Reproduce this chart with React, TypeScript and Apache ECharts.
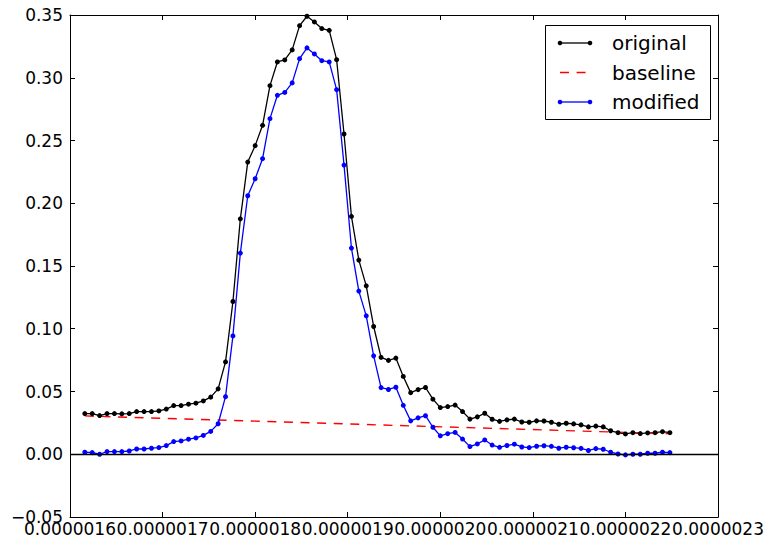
import React, { useEffect, useRef } from "react";
import * as echarts from "echarts";

// x positions in units of 1e-9
const xValues = [
  1616, 1624, 1632, 1640, 1648, 1656, 1664, 1672, 1680, 1688,
  1696, 1704, 1712, 1720, 1728, 1736, 1744, 1752, 1760, 1768,
  1776, 1784, 1792, 1800, 1808, 1816, 1824, 1832, 1840, 1848,
  1856, 1864, 1872, 1880, 1888, 1896, 1904, 1912, 1920, 1928,
  1936, 1944, 1952, 1960, 1968, 1976, 1984, 1992, 2000, 2008,
  2016, 2024, 2032, 2040, 2048, 2056, 2064, 2072, 2080, 2088,
  2096, 2104, 2112, 2120, 2128, 2136, 2144, 2152, 2160, 2168,
  2176, 2184, 2192, 2200, 2208, 2216, 2224, 2232, 2240, 2248,
];

const original = [
  0.0324, 0.0324, 0.0308, 0.0324, 0.0324, 0.0322, 0.0324, 0.034, 0.034, 0.034,
  0.0345, 0.036, 0.0388, 0.0388, 0.0399, 0.0407, 0.0425, 0.0455, 0.0521, 0.0736,
  0.1217, 0.1876, 0.2328, 0.2459, 0.2621, 0.2937, 0.3126, 0.3142, 0.3222, 0.3415,
  0.349, 0.3445, 0.3392, 0.3378, 0.3144, 0.2552, 0.1895, 0.1547, 0.1342, 0.1018,
  0.0772, 0.0748, 0.0766, 0.062, 0.0491, 0.0515, 0.0532, 0.0439, 0.0372, 0.038,
  0.0392, 0.034, 0.028, 0.0298, 0.0327, 0.0279, 0.0262, 0.0274, 0.028, 0.0257,
  0.0255, 0.0266, 0.0265, 0.0255, 0.0239, 0.0247, 0.0242, 0.0234, 0.0218, 0.0224,
  0.0218, 0.0187, 0.0172, 0.0162, 0.0172, 0.0165, 0.017, 0.0172, 0.018, 0.0172,
];

const modified = [
  0.0016, 0.0013, 0.0, 0.0021, 0.0021, 0.0021, 0.0026, 0.0042, 0.0042, 0.0048,
  0.0053, 0.0069, 0.0101, 0.0106, 0.012, 0.013, 0.015, 0.0182, 0.0243, 0.0459,
  0.0943, 0.1603, 0.206, 0.2195, 0.2355, 0.2674, 0.286, 0.2883, 0.2959, 0.3152,
  0.3238, 0.319, 0.3136, 0.3126, 0.2905, 0.2304, 0.1643, 0.13, 0.1103, 0.0784,
  0.0531, 0.0516, 0.0534, 0.039, 0.0266, 0.029, 0.0307, 0.0215, 0.0147, 0.0164,
  0.0174, 0.0121, 0.0061, 0.0082, 0.0114, 0.0073, 0.0055, 0.007, 0.008, 0.0058,
  0.0053, 0.0064, 0.0068, 0.0063, 0.0048, 0.0056, 0.0052, 0.0047, 0.003, 0.0045,
  0.004, 0.0016, 0.0002, -0.0005, 0.0, 0.0, 0.0008, 0.0008, 0.0016, 0.0013,
];

const baselineX = [1616, 2248];
const baselineY = [0.0305, 0.0164];

const legendNames = ["original", "baseline", "modified"];
const seriesColors = ["#000000", "#ff0000", "#0000ff"];

const X_MIN = 1600;
const X_MAX = 2300;
const X_STEP = 100;
const Y_MIN = -0.05;
const Y_MAX = 0.35;
const Y_STEP = 0.05;

const FONT = "DejaVu Sans";

export default function App() {
  const ref = useRef<HTMLDivElement>(null);

  useEffect(() => {
    if (!ref.current) return;
    const chart = echarts.init(ref.current, null, { renderer: "svg" });
    const pair = (xs: number[], ys: number[]) => xs.map((x, i) => [x, ys[i]]);

    const axisLine = { show: true, onZero: false, lineStyle: { color: "#000", width: 1 } };
    const tick = { show: true, inside: true, length: 5, lineStyle: { color: "#000", width: 1 } };
    const xFmt = (v: number) => (v / 1e9).toFixed(7);
    const yFmt = (v: number) =>
      v < -1e-9 ? "\u2212" + Math.abs(v).toFixed(2) : Math.abs(v).toFixed(2);

    const legendRows = [43, 72.5, 102];
    const graphic: any[] = [
      {
        type: "rect",
        z: 100,
        shape: { x: 545.5, y: 25.5, width: 165, height: 94 },
        style: { fill: "#fff", stroke: "#000", lineWidth: 1 },
      },
    ];
    legendNames.forEach((name, i) => {
      const y = legendRows[i];
      const c = seriesColors[i];
      if (i === 1) {
        graphic.push({
          type: "line",
          z: 101,
          shape: { x1: 560, y1: y, x2: 590, y2: y },
          style: { stroke: c, lineWidth: 1.3, lineDash: [9, 7.6] },
        });
      } else {
        graphic.push({
          type: "line",
          z: 101,
          shape: { x1: 560, y1: y, x2: 590, y2: y },
          style: { stroke: c, lineWidth: 1.3 },
        });
        graphic.push({ type: "circle", z: 102, shape: { cx: 560, cy: y, r: 2.3 }, style: { fill: c } });
        graphic.push({ type: "circle", z: 102, shape: { cx: 590, cy: y, r: 2.3 }, style: { fill: c } });
      }
      graphic.push({
        type: "text",
        z: 102,
        x: 612,
        y: y,
        style: {
          text: name,
          fill: "#000",
          font: `20px "${FONT}"`,
          verticalAlign: "middle",
          align: "left",
        },
      });
    });

    chart.setOption({
      animation: false,
      backgroundColor: "#fff",
      textStyle: { fontFamily: FONT },
      grid: { left: 70, right: 47, top: 15, bottom: 22 },
      xAxis: [
        {
          type: "value",
          position: "bottom",
          min: X_MIN,
          max: X_MAX,
          interval: X_STEP,
          axisLine,
          axisTick: tick,
          splitLine: { show: false },
          axisLabel: { formatter: xFmt, color: "#000", fontSize: 17, fontFamily: FONT, margin: 3 },
        },
        {
          type: "value",
          position: "top",
          min: X_MIN,
          max: X_MAX,
          interval: X_STEP,
          axisLine,
          axisTick: tick,
          splitLine: { show: false },
          axisLabel: { show: false },
        },
      ],
      yAxis: [
        {
          type: "value",
          position: "left",
          min: Y_MIN,
          max: Y_MAX,
          interval: Y_STEP,
          axisLine,
          axisTick: tick,
          splitLine: { show: false },
          axisLabel: { formatter: yFmt, color: "#000", fontSize: 17, fontFamily: FONT, margin: 7 },
        },
        {
          type: "value",
          position: "right",
          min: Y_MIN,
          max: Y_MAX,
          interval: Y_STEP,
          axisLine,
          axisTick: tick,
          splitLine: { show: false },
          axisLabel: { show: false },
        },
      ],
      series: [
        {
          name: legendNames[0],
          type: "line",
          xAxisIndex: 0,
          yAxisIndex: 0,
          data: pair(xValues, original),
          symbol: "circle",
          symbolSize: 5,
          showSymbol: true,
          lineStyle: { color: seriesColors[0], width: 1.3 },
          itemStyle: { color: seriesColors[0] },
          markLine: {
            silent: true,
            symbol: ["none", "none"],
            label: { show: false },
            lineStyle: { color: "#000", width: 1.3, type: "solid" },
            data: [{ yAxis: 0 }],
          },
        },
        {
          name: legendNames[1],
          type: "line",
          xAxisIndex: 0,
          yAxisIndex: 0,
          data: pair(baselineX, baselineY),
          symbol: "none",
          showSymbol: false,
          lineStyle: { color: seriesColors[1], width: 1.3, type: [9, 7.6] },
        },
        {
          name: legendNames[2],
          type: "line",
          xAxisIndex: 0,
          yAxisIndex: 0,
          data: pair(xValues, modified),
          symbol: "circle",
          symbolSize: 5,
          showSymbol: true,
          lineStyle: { color: seriesColors[2], width: 1.3 },
          itemStyle: { color: seriesColors[2] },
        },
      ],
      graphic,
    });

    return () => chart.dispose();
  }, []);

  return (
    <div
      ref={ref}
      style={{ position: "fixed", left: 0, top: 0, width: 767, height: 539, background: "#fff" }}
    />
  );
}
